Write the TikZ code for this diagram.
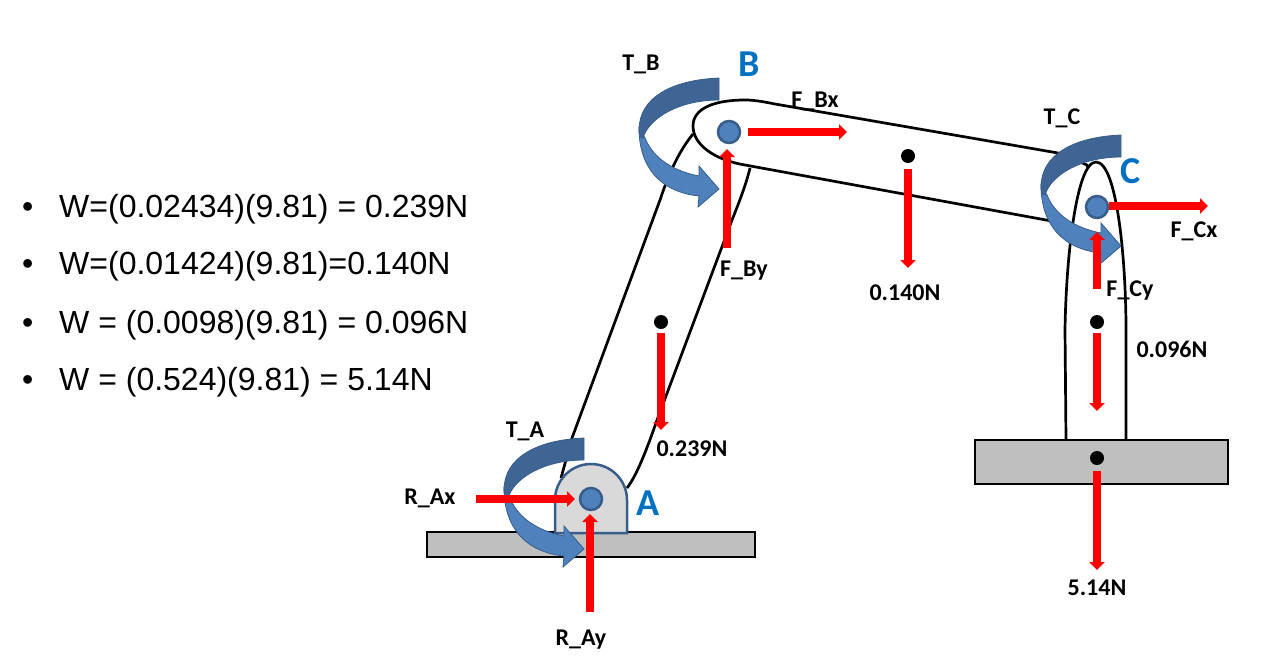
\documentclass[tikz,border=0pt]{standalone}
\usepackage{fontspec}
\setmainfont{Liberation Sans}
\newfontfamily\lblfont{Carlito}
\usetikzlibrary{arrows.meta}
\definecolor{fdark}{HTML}{3F6594}
\definecolor{flight}{HTML}{4F81BD}
\definecolor{edgeb}{HTML}{385D8A}
\definecolor{letterb}{HTML}{0070C0}
\newcommand{\torque}[2]{%
  \begin{scope}[shift={(#1,#2)}]
    \filldraw[fill=flight,draw=edgeb,line width=0.8pt,line join=miter]
      (-80,50) .. controls (-80,90) and (-58,114) .. (-20,118)
      -- (-21,129) -- (0,111) -- (-20,88) -- (-20,98)
      .. controls (-46,93) and (-66,80) .. (-74,60) -- cycle;
    \filldraw[fill=fdark,draw=edgeb,line width=0.8pt,line join=miter]
      (0,0) .. controls (-48,2) and (-80,20) .. (-80,52)
      .. controls (-80,56) and (-79,60) .. (-76,60)
      .. controls (-70,40) and (-40,22) .. (0,22) -- cycle;
  \end{scope}}
\tikzset{
  x=1pt,y=-1pt,
  force/.style={draw=red,line width=7.5pt,-{Triangle[width=15pt,length=8pt]}},
  bar/.style={draw=black,line width=2.7pt},
  plate/.style={draw=black,line width=2.5pt,fill=black!25!white,line join=miter},
  pin/.style={circle,draw=edgeb,line width=2.5pt,fill=flight,minimum size=22pt,inner sep=0pt},
  cog/.style={circle,fill=black,minimum size=14pt,inner sep=0pt},
  lbl/.style={font=\lblfont\bfseries\fontsize{24}{24}\selectfont,inner sep=0pt},
  jointname/.style={font=\lblfont\bfseries\fontsize{38}{38}\selectfont,text=letterb,inner sep=0pt},
  sheet/.style={anchor=base west,font=\fontsize{32}{34}\selectfont,inner sep=0pt}
}
\begin{document}
\begin{tikzpicture}
\useasboundingbox (0,0) rectangle (1266,670);
% base plate A
\draw[plate] (427,532) rectangle (755,557);
% link AB
\draw[bar] (693,134) .. controls (680,150) and (670,170) .. (660,200) -- (572,438) -- (561,478);
\draw[bar] (750,168) .. controls (746,185) and (738,205) .. (732,220) -- (657,420) .. controls (645,455) and (635,478) .. (627,488);
% link BC
\draw[bar,fill=white] (745,165) .. controls (715,160) and (693,145) .. (693,126)
  .. controls (693,108) and (715,100) .. (745,100) .. controls (755,100) and (765,102) .. (775,104)
  -- (1058,153) -- (1087,165) -- (1110,240) -- (1068,224) -- cycle;
% link C
\draw[bar,fill=white] (1066,440) -- (1065,330) .. controls (1066,260) and (1076,162) .. (1096,162)
  .. controls (1117,162) and (1126,260) .. (1126,330) -- (1126,440);
% base plate C
\draw[plate] (975,440) rectangle (1228,484);
% pedestal
\draw[line width=2.5pt,draw=edgeb,fill=black!15!white] (555,533) -- (555,500) arc[start angle=180,end angle=360,radius=36] -- (627,533) -- cycle;
% pins and centres of gravity
\node[pin] (pinA) at (591,499) {};
\node[pin] (pinB) at (729,132) {};
\node[pin] (pinC) at (1097,207) {};
\node[cog] (cogAB) at (661,322) {};
\node[cog] (cogBC) at (908,156) {};
\node[cog] (cogC) at (1097,322) {};
\node[cog] (cogBase) at (1097,458) {};
% torques
\torque{584}{438}
\torque{719}{78}
\torque{1121}{135}
% force ends
\coordinate (rax) at (476,499); \coordinate (raxe) at (575,499);
\coordinate (ray) at (590,612); \coordinate (raye) at (590,514);
\coordinate (fbx) at (748,132); \coordinate (fbxe) at (847,132);
\coordinate (fby) at (727,248); \coordinate (fbye) at (727,149);
\coordinate (fcx) at (1109,206); \coordinate (fcxe) at (1208,206);
\coordinate (fcy) at (1097,289); \coordinate (fcye) at (1097,232);
\coordinate (wbc) at (908,169); \coordinate (wbce) at (908,268);
\coordinate (wab) at (661,333); \coordinate (wabe) at (661,430);
\coordinate (wc) at (1097,333); \coordinate (wce) at (1097,411);
\coordinate (wb) at (1097,471); \coordinate (wbe) at (1097,570);
\draw[force] (rax) -- (raxe);
\draw[force] (ray) -- (raye);
\draw[force] (fbx) -- (fbxe);
\draw[force] (fby) -- (fbye);
\draw[force] (fcx) -- (fcxe);
\draw[force] (fcy) -- (fcye);
\draw[force] (wbc) -- (wbce);
\draw[force] (wab) -- (wabe);
\draw[force] (wc) -- (wce);
\draw[force] (wb) -- (wbe);
% labels
\node[lbl] (lTB) at (641,64) {T\_B};
\node[lbl] (lFBx) at (815,101) {F\_Bx};
\node[lbl] (lFBy) at (744,271) {F\_By};
\node[lbl] (lTC) at (1062,118) {T\_C};
\node[lbl] (lFCx) at (1194,231) {F\_Cx};
\node[lbl] (lFCy) at (1130,291) {F\_Cy};
\node[lbl] (l140) at (905,293) {0.140N};
\node[lbl] (l096) at (1172,349) {0.096N};
\node[lbl] (l239) at (692,449) {0.239N};
\node[lbl] (lTA) at (525,431) {T\_A};
\node[lbl] (lRAx) at (430,498) {R\_Ax};
\node[lbl] (lRAy) at (581,640) {R\_Ay};
\node[lbl] (l514) at (1097,588) {5.14N};
\node[jointname] (nA) at (648,503) {A};
\node[jointname] (nB) at (749,64) {B};
\node[jointname] (nC) at (1131,171) {C};
% equations
\node[sheet] (b1) at (22,217) {•};
\node[sheet] (b2) at (22,274) {•};
\node[sheet] (b3) at (22,333) {•};
\node[sheet] (b4) at (22,390) {•};
\node[sheet] (e1) at (59,217) {W=(0.02434)(9.81) = 0.239N};
\node[sheet] (e2) at (59,274) {W=(0.01424)(9.81)=0.140N};
\node[sheet] (e3) at (59,333) {W = (0.0098)(9.81) = 0.096N};
\node[sheet] (e4) at (59,390) {W = (0.524)(9.81) = 5.14N};
\end{tikzpicture}
\end{document}
